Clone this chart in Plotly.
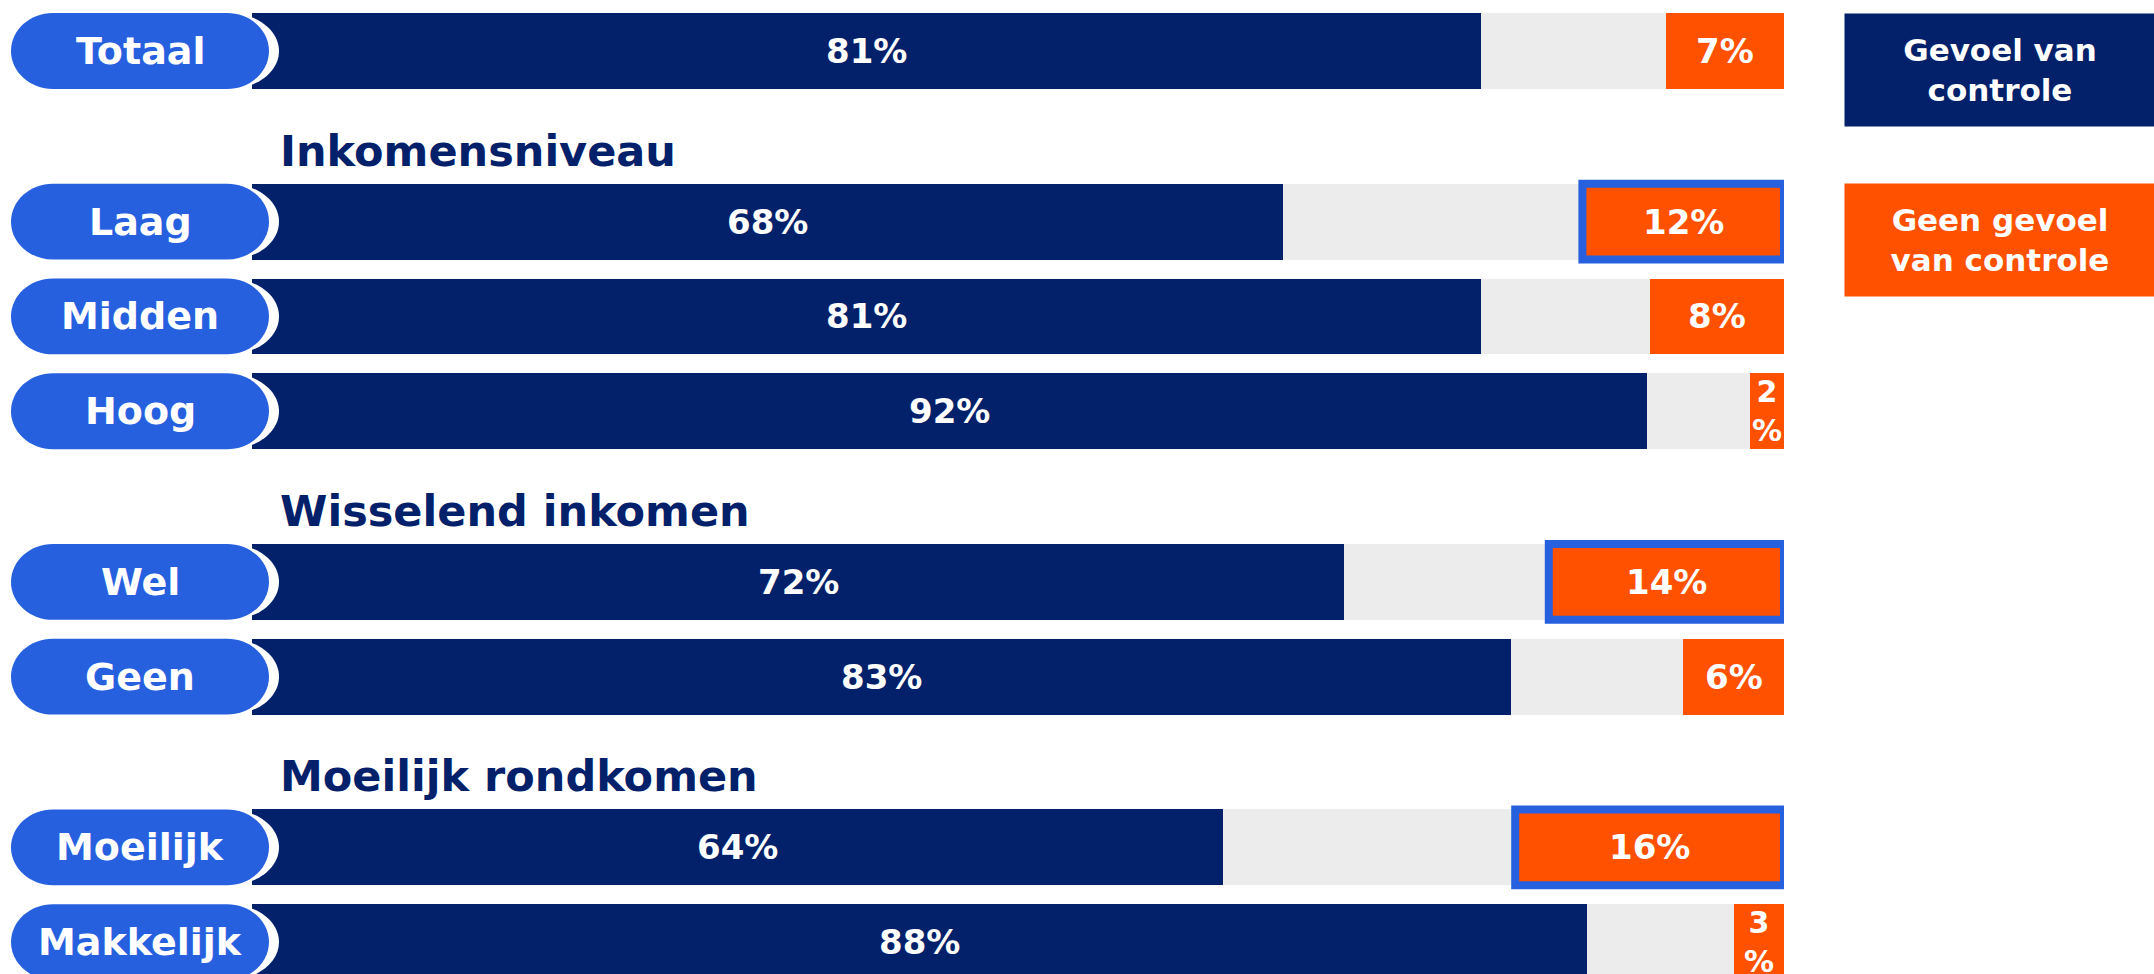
import plotly.graph_objects as go

# ---------------- data ----------------
group_titles = ["", "Inkomensniveau", "Wisselend inkomen", "Moeilijk rondkomen"]
group_rows = [["Totaal"], ["Laag", "Midden", "Hoog"], ["Wel", "Geen"], ["Moeilijk", "Makkelijk"]]
categories = ["Totaal", "Laag", "Midden", "Hoog", "Wel", "Geen", "Moeilijk", "Makkelijk"]
gevoel_van_controle = [81, 68, 81, 92, 72, 83, 64, 88]
geen_gevoel_van_controle = [7, 12, 8, 2, 14, 6, 16, 3]
totaal_pct = [100, 100, 100, 100, 100, 100, 100, 100]
highlight = ["Laag", "Wel", "Moeilijk"]
legend_labels = ["Gevoel van<br>controle", "Geen gevoel<br>van controle"]

# ---------------- style ----------------
W, H = 2154, 974
NAVY = "#03216A"
ORANGE = "#FF5100"
GRAY = "#ECECEC"
BLUE = "#2660DF"
FONT = "Verdana, DejaVu Sans, sans-serif"

PX_PER_ROW = 94.8
TOP_PX = 51
BAR_W = 0.8
GROUP_GAP = 0.8
HEADER_OFFSET = 0.75

# row positions
pos = {}
headers = []
y = 0.0
for gi, (title, rows) in enumerate(zip(group_titles, group_rows)):
    if gi > 0:
        y += GROUP_GAP
    for i, r in enumerate(rows):
        if i == 0 and title:
            headers.append((title, y - HEADER_OFFSET))
        pos[r] = y
        y += 1.0
ypos = [pos[c] for c in categories]

fig = go.Figure()
fig.add_trace(go.Bar(y=ypos, x=totaal_pct, orientation="h", width=BAR_W,
                     marker=dict(color=GRAY, line=dict(width=0)), hoverinfo="skip",
                     showlegend=False))
fig.add_trace(go.Bar(y=ypos, x=gevoel_van_controle, orientation="h", width=BAR_W,
                     marker=dict(color=NAVY, line=dict(width=0)), name="Gevoel van controle",
                     showlegend=False))
fig.add_trace(go.Bar(y=ypos, x=geen_gevoel_van_controle, orientation="h", width=BAR_W,
                     marker=dict(color=ORANGE, line=dict(width=0)), name="Geen gevoel van controle",
                     xaxis="x2", showlegend=False))

annotations = []
shapes = []

# value labels
for c, v, n in zip(categories, gevoel_van_controle, geen_gevoel_van_controle):
    yy = pos[c]
    annotations.append(dict(x=v / 2, xref="x", xanchor="center", y=yy, yref="y", text=f"{v}%",
                            showarrow=False,
                            font=dict(family=FONT, size=34, color="white", weight="bold")))
    txt = f"{n}<br>%" if n < 4 else f"{n}%"
    annotations.append(dict(x=n / 2, xref="x2", xanchor="center", y=yy, yref="y", text=txt,
                            showarrow=False,
                            font=dict(family=FONT, size=30 if n < 4 else 34, color="white", weight="bold")))
    if c in highlight:
        shapes.append(dict(type="rect", xref="x2", yref="y", x0=0, x1=n,
                           y0=yy - BAR_W / 2, y1=yy + BAR_W / 2,
                           line=dict(color=BLUE, width=8), fillcolor="rgba(0,0,0,0)", layer="above"))


def rounded_path(x0, x1, y0, y1, rx, ry):
    k = 0.5523
    return (f"M {x0+rx},{y0} L {x1-rx},{y0} "
            f"C {x1-rx+k*rx},{y0} {x1},{y0+ry-k*ry} {x1},{y0+ry} "
            f"L {x1},{y1-ry} "
            f"C {x1},{y1-ry+k*ry} {x1-rx+k*rx},{y1} {x1-rx},{y1} "
            f"L {x0+rx},{y1} "
            f"C {x0+rx-k*rx},{y1} {x0},{y1-ry+k*ry} {x0},{y1-ry} "
            f"L {x0},{y0+ry} "
            f"C {x0},{y0+ry-k*ry} {x0+rx-k*rx},{y0} {x0+rx},{y0} Z")


# pills
for c in categories:
    yy = pos[c]
    y0, y1 = yy - BAR_W / 2, yy + BAR_W / 2
    ry = BAR_W / 2
    shapes.append(dict(type="path", xref="paper", yref="y", layer="above",
                       path=rounded_path(2 / W, 279 / W, y0, y1, 50 / W, ry),
                       fillcolor="white", line=dict(width=0)))
    shapes.append(dict(type="path", xref="paper", yref="y", layer="above",
                       path=rounded_path(11 / W, 269 / W, y0, y1, 42 / W, ry),
                       fillcolor=BLUE, line=dict(width=0)))
    annotations.append(dict(x=140 / W, xref="paper", xanchor="center", y=yy, yref="y", text=c,
                            showarrow=False,
                            font=dict(family=FONT, size=38, color="white", weight="bold")))

# group headers
for title, hy in headers:
    annotations.append(dict(x=278 / W, xref="paper", xanchor="left", y=hy, yref="y", text=title,
                            showarrow=False,
                            font=dict(family=FONT, size=43, color=NAVY, weight="bold")))

# legend boxes
for lbl, col, top in zip(legend_labels, [NAVY, ORANGE], [13, 183]):
    annotations.append(dict(x=1844 / W, xref="paper", xanchor="left",
                            y=1 - top / H, yref="paper", yanchor="top",
                            width=310, height=112, bgcolor=col, borderpad=0, align="center",
                            text=lbl, showarrow=False,
                            font=dict(family=FONT, size=31, color="white", weight="bold")))

y_top = -TOP_PX / PX_PER_ROW
y_bot = (H - TOP_PX) / PX_PER_ROW

fig.update_layout(
    width=W, height=H,
    margin=dict(l=0, r=0, t=0, b=0),
    paper_bgcolor="white", plot_bgcolor="white",
    barmode="overlay", bargap=0,
    xaxis=dict(domain=[252 / W, 1784 / W], range=[0, 101], visible=False, fixedrange=True),
    xaxis2=dict(overlaying="x", anchor="y", range=[1532 / 16.8, 0], visible=False, fixedrange=True),
    yaxis=dict(domain=[0, 1], range=[y_bot, y_top], visible=False, fixedrange=True),
    shapes=shapes,
    annotations=annotations,
    showlegend=False,
)

fig.write_html("out.html", config={"displayModeBar": False},
               post_script="document.body.style.margin='0';document.body.style.overflow='hidden';")
